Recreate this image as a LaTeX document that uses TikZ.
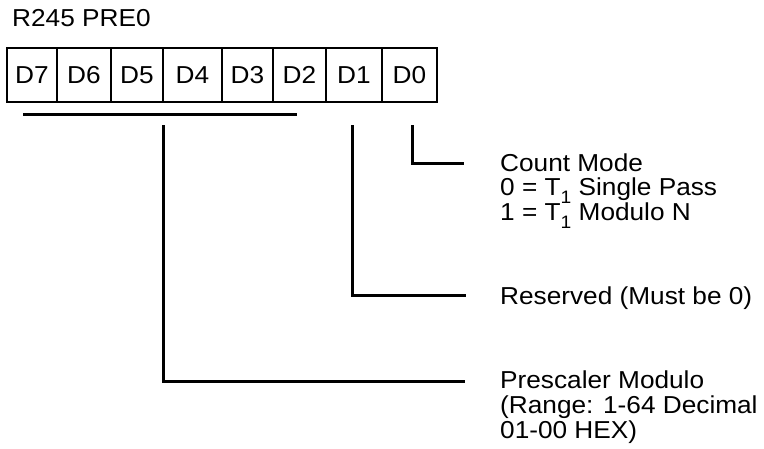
\documentclass[tikz,border=0pt]{standalone}
\usepackage{fontspec}
\setmainfont[FakeStretch=1.07]{Liberation Sans}
\newcommand\lowone{\raisebox{-8pt}{\fontsize{18}{18}\selectfont 1}}
\begin{document}
\begin{tikzpicture}[x=1pt,y=-1pt,
  txt/.style={inner sep=0pt,anchor=base west,font=\fontsize{24.5}{25}\selectfont},
  cell/.style={draw,line width=2.5pt,minimum height=54pt,inner sep=0pt,font=\fontsize{24.5}{25}\selectfont},
  conn/.style={line width=3pt,line cap=butt}]
\useasboundingbox (0,0) rectangle (764,448);
\node[txt] (title) at (12,26) {R245 PRE0};
% register cells
\node[cell,minimum width=50pt] (d7) at (32,75) {D7};
\node[cell,minimum width=54pt] (d6) at (84,75) {D6};
\node[cell,minimum width=52pt] (d5) at (137,75) {D5};
\node[cell,minimum width=59pt] (d4) at (192.5,75) {D4};
\node[cell,minimum width=51pt] (d3) at (247.5,75) {D3};
\node[cell,minimum width=53pt] (d2) at (299.5,75) {D2};
\node[cell,minimum width=56pt] (d1) at (354,75) {D1};
\node[cell,minimum width=55pt] (d0) at (409.5,75) {D0};
% bracket
\coordinate (bl) at (23,114);
\coordinate (br) at (297,114);
\draw[conn] (bl) -- (br);
% labels
\node[txt] (cm) at (500,171) {Count Mode};
\node[txt] (cm1) at (500,195) {0 = T\lowone{} Single Pass};
\node[txt] (cm2) at (500,220) {1 = T\lowone{} Modulo N};
\node[txt] (res) at (500,304) {Reserved (Must be 0)};
\node[txt] (pm) at (500,388) {Prescaler Modulo};
\node[txt] (pm1) at (500,413) {(Range: 1-64 Decimal};
\node[txt] (pm2) at (500,438) {01-00 HEX)};
% connectors
\coordinate (s0) at (412,125);
\coordinate (e0) at (464,163);
\coordinate (s1) at (352,125);
\coordinate (e1) at (466,295);
\coordinate (s2) at (163,125);
\coordinate (e2) at (465,381);
\draw[conn] (s0) |- (e0);
\draw[conn] (s1) |- (e1);
\draw[conn] (s2) |- (e2);
\end{tikzpicture}
\end{document}
